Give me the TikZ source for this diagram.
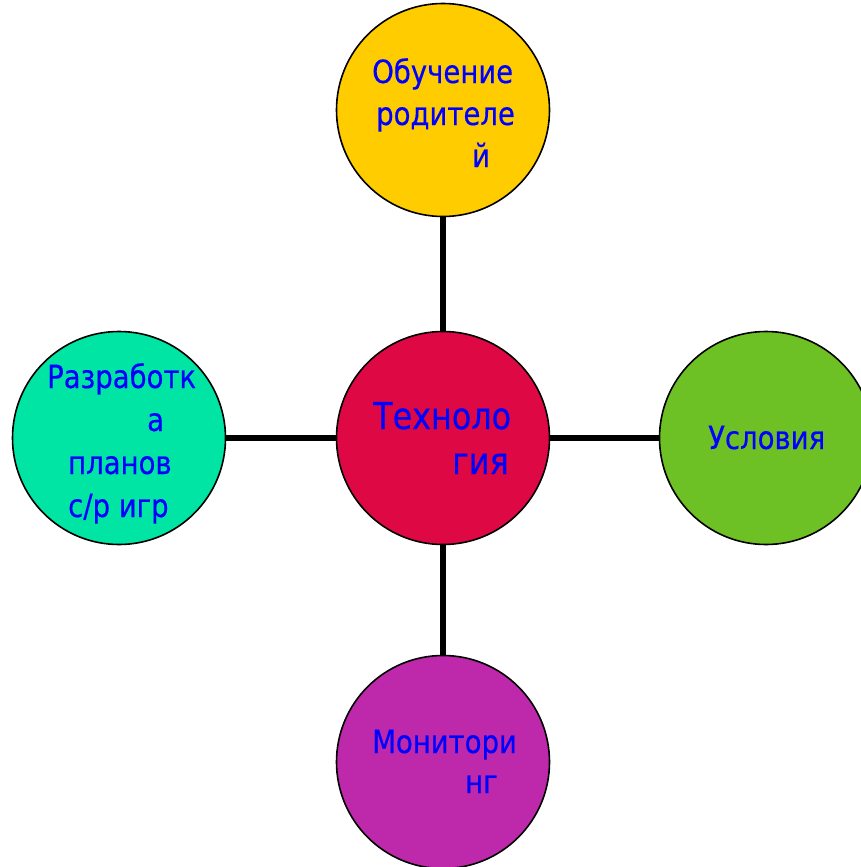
\documentclass[tikz,border=0pt]{standalone}
\usepackage{fontspec}
\setmainfont{DejaVu Sans}[FakeStretch=0.86,FakeBold=0.4]
\definecolor{cTop}{RGB}{255,204,0}
\definecolor{cCtr}{RGB}{221,8,68}
\definecolor{cLeft}{RGB}{0,228,164}
\definecolor{cRight}{RGB}{110,193,36}
\definecolor{cBot}{RGB}{190,40,170}
\definecolor{txt}{RGB}{0,0,255}
\tikzset{
  bubble/.style={circle, draw=black, line width=1.6pt, minimum size=213pt, inner sep=0pt},
  link/.style={line width=6pt, black},
  lbl/.style={inner sep=0pt, anchor=base west, text=txt, font=\fontsize{32}{42}\selectfont},
  biglbl/.style={lbl, font=\fontsize{37}{45}\selectfont}
}
\begin{document}
\begin{tikzpicture}[x=1pt,y=-1pt]
\useasboundingbox (0,0) rectangle (861,867);
\node[bubble, fill=cTop] (top) at (443,110) {};
\node[bubble, fill=cCtr] (ctr) at (443,438) {};
\node[bubble, fill=cLeft] (left) at (119,438) {};
\node[bubble, fill=cRight] (right) at (766,438) {};
\node[bubble, fill=cBot] (bot) at (443,762) {};
\draw[link] (top.south) -- (ctr.north);
\draw[link] (ctr.south) -- (bot.north);
\draw[link] (left.east) -- (ctr.west);
\draw[link] (ctr.east) -- (right.west);
\node[lbl] (tTop) at (372,83) {\begin{tabular}[t]{@{}l@{}}Обучение\\\hspace{4pt}родителе\\\hspace{100pt}й\end{tabular}};
\node[biglbl] (tCtr) at (373,429) {\begin{tabular}[t]{@{}l@{}}Техноло\\\hspace{79pt}гия\end{tabular}};
\node[lbl] (tLeft) at (47,388) {\begin{tabular}[t]{@{}l@{}}Разработк\\[1pt]\hspace{100pt}а\\[1pt]\hspace{21pt}планов\\[1pt]\hspace{21pt}с/р игр\end{tabular}};
\node[lbl] (tRight) at (708,449) {Условия};
\node[lbl] (tBot) at (372,753) {\begin{tabular}[t]{@{}l@{}}Монитори\\[-2pt]\hspace{93pt}нг\end{tabular}};
\end{tikzpicture}
\end{document}
